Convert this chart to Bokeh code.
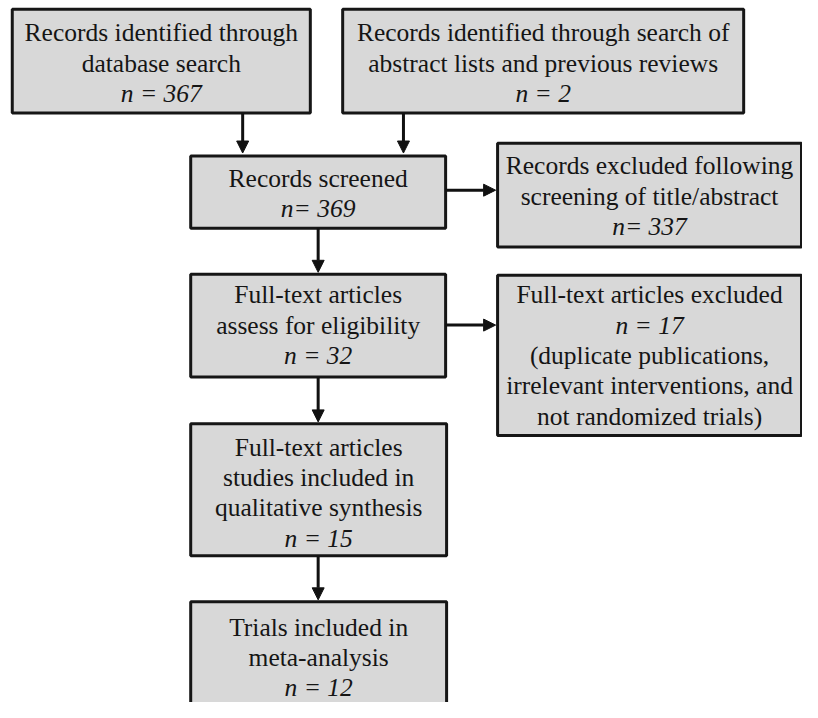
from bokeh.plotting import figure
from bokeh.models import ColumnDataSource, Range1d, Arrow, NormalHead
from bokeh.core.properties import value
from bokeh.embed import file_html
from bokeh.resources import INLINE

# ---- data ----
box_titles = [
    ["Records identified through", "database search"],
    ["Records identified through search of", "abstract lists and previous reviews"],
    ["Records screened"],
    ["Records excluded following", "screening of title/abstract"],
    ["Full-text articles", "assess for eligibility"],
    ["Full-text articles excluded"],
    ["Full-text articles", "studies included in", "qualitative synthesis"],
    ["Trials included in", "meta-analysis"],
]
count_prefix = ["n = ", "n = ", "n= ", "n= ", "n = ", "n = ", "n = ", "n = "]
counts = [367, 2, 369, 337, 32, 17, 15, 12]
box_notes = [[], [], [], [], [], ["(duplicate publications,", "irrelevant interventions, and", "not randomized trials)"], [], []]

# ---- layout (reference pixel space) ----
box_left = [12, 349, 194, 507, 194, 507, 194, 194]
box_right = [316, 758, 454, 817, 454, 817, 455, 455]
box_top = [9, 9, 159, 146, 280, 281, 433, 615]
box_bottom = [115, 115, 233, 252, 385, 445, 568, 740]
first_line = [33, 33, 182, 169, 301, 301, 457, 641]
line_gap = 31

# arrows: (x0, y0, x1, y1)
arrows = [
    (247, 115, 247, 156),
    (411, 115, 411, 156),
    (454, 194, 505, 194),
    (324, 233, 324, 278),
    (454, 332, 505, 332),
    (324, 385, 324, 431),
    (324, 568, 324, 613),
]

p = figure(width=802, height=702, output_backend="svg", toolbar_location=None,
           x_range=Range1d(0, 818), y_range=Range1d(718, 0), min_border=0)
p.axis.visible = False
p.grid.visible = False
p.outline_line_color = None
p.background_fill_color = "white"

p.quad(left=box_left, right=box_right, top=box_top, bottom=box_bottom,
       fill_color="#d8d8d8", line_color="#161616", line_width=3)

for (x0, y0, x1, y1) in arrows:
    p.add_layout(Arrow(x_start=x0, y_start=y0, x_end=x1, y_end=y1,
                       line_color="#111111", line_width=3,
                       end=NormalHead(size=12, fill_color="#111111", line_color="#111111", line_width=1)))

nx, ny, nt = [], [], []
ix, iy, it = [], [], []
for i in range(len(box_titles)):
    cx = (box_left[i] + box_right[i]) / 2
    y = first_line[i]
    for t in box_titles[i]:
        nx.append(cx); ny.append(y); nt.append(t)
        y += line_gap
    ix.append(cx); iy.append(y); it.append(f"{count_prefix[i]}{counts[i]}")
    y += line_gap
    for t in box_notes[i]:
        nx.append(cx); ny.append(y); nt.append(t)
        y += line_gap

p.text(x="x", y="y", text="text", source=ColumnDataSource(dict(x=nx, y=ny, text=nt)),
       text_font=value("Liberation Serif"), text_font_size="25.5px", text_color="#151515",
       text_align="center", text_baseline="middle")
p.text(x="x", y="y", text="text", source=ColumnDataSource(dict(x=ix, y=iy, text=it)),
       text_font=value("Liberation Serif"), text_font_size="25.5px", text_font_style="italic",
       text_color="#151515", text_align="center", text_baseline="middle")

open("out.html", "w").write(file_html(p, INLINE))
